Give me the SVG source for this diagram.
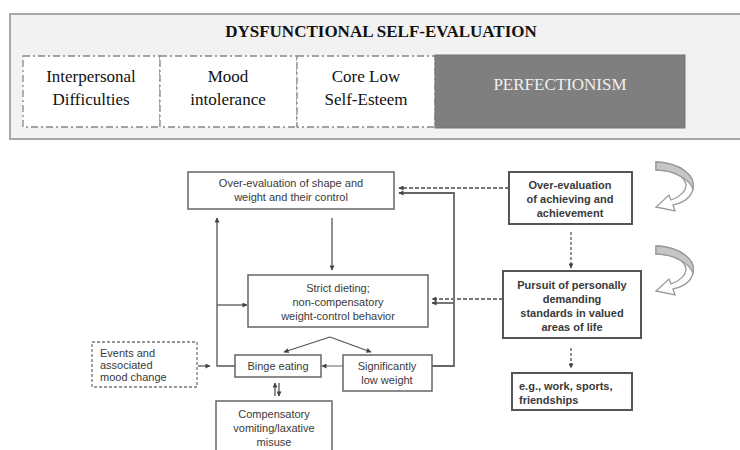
<svg xmlns="http://www.w3.org/2000/svg" width="740" height="450" viewBox="0 0 740 450">
<defs>
<style>
.panel{fill:#f2f2f2;stroke:#a8a8a8;stroke-width:2}
.dd{fill:#fff;stroke:#888;stroke-width:1.3;stroke-dasharray:7,3,2,3}
.tr{font-family:"Liberation Serif",serif;font-size:17px;fill:#111;text-anchor:middle}
.box{fill:#fff;stroke:#666;stroke-width:1.5}
.bbox{fill:#fff;stroke:#555;stroke-width:2}
.ta{font-family:"Liberation Sans",Arial,sans-serif;font-size:11px;fill:#3a3a3a;text-anchor:middle}
.tb{font-family:"Liberation Sans",Arial,sans-serif;font-size:11px;font-weight:bold;fill:#3a3a3a;text-anchor:middle}
.ln{fill:none;stroke:#555;stroke-width:1.3}
.dl{fill:none;stroke:#777;stroke-width:2;stroke-dasharray:4,2}
.dv{fill:none;stroke:#555;stroke-width:1.3;stroke-dasharray:3,2}
.ca{fill:#fff;stroke:#9a9a9a;stroke-width:1.3}
.cs{fill:#c6c6c6;stroke:#9a9a9a;stroke-width:1.3}
</style>
<marker id="ah" viewBox="0 0 10 10" refX="9" refY="5" markerUnits="userSpaceOnUse" markerWidth="6" markerHeight="5" orient="auto-start-reverse">
<path d="M0,0 L10,5 L0,10 Z" fill="#444"/>
</marker>
</defs>

<g id="panel">
<rect class="panel" x="10" y="14" width="740" height="125"/>
<text x="381" y="37" font-family="'Liberation Serif',serif" font-size="17" font-weight="bold" fill="#111" text-anchor="middle">DYSFUNCTIONAL SELF-EVALUATION</text>
</g>
<g id="interpersonal">
<rect class="dd" x="23" y="56" width="137" height="71"/>
<text class="tr" x="91" y="82">Interpersonal</text>
<text class="tr" x="91" y="105">Difficulties</text>
</g>
<g id="mood">
<rect class="dd" x="160" y="56" width="137" height="71"/>
<text class="tr" x="228" y="82">Mood</text>
<text class="tr" x="228" y="105">intolerance</text>
</g>
<g id="esteem">
<rect class="dd" x="297" y="56" width="138" height="71"/>
<text class="tr" x="366" y="82">Core Low</text>
<text class="tr" x="366" y="105">Self-Esteem</text>
</g>
<g id="perfectionism">
<rect x="435" y="55" width="250" height="73" fill="#7f7f7f" stroke="#777" stroke-width="1"/>
<text class="tr" x="560" y="90" style="fill:#f0f0f0">PERFECTIONISM</text>
</g>

<g id="connectors">
<line class="ln" x1="332" y1="218" x2="332" y2="270" marker-end="url(#ah)"/>
<polyline class="ln" points="235,366 217,366 217,218" marker-end="url(#ah)"/>
<line class="ln" x1="217" y1="305" x2="247" y2="305" marker-end="url(#ah)"/>
<line class="ln" x1="198" y1="366" x2="210" y2="366" marker-end="url(#ah)"/>
<line class="ln" x1="343" y1="366" x2="322" y2="366" marker-end="url(#ah)" style="stroke:#888"/>
<line class="ln" x1="330" y1="337" x2="284" y2="352" marker-end="url(#ah)"/>
<line class="ln" x1="330" y1="337" x2="371" y2="352" marker-end="url(#ah)"/>
<line class="ln" x1="275" y1="396" x2="275" y2="383" marker-end="url(#ah)"/>
<line class="ln" x1="279" y1="383" x2="279" y2="396" marker-end="url(#ah)"/>
<polyline class="ln" points="432,366 454,366 454,193 399,193" marker-end="url(#ah)" style="stroke-width:1.8;stroke:#666"/>
<line class="ln" x1="454" y1="303" x2="432" y2="303" marker-end="url(#ah)" style="stroke-width:1.8;stroke:#666"/>
<line class="dl" x1="509" y1="188" x2="399" y2="188" marker-end="url(#ah)"/>
<line class="dl" x1="503" y1="299" x2="432" y2="299" marker-end="url(#ah)"/>
<line class="dv" x1="571" y1="232" x2="571" y2="268" marker-end="url(#ah)"/>
<line class="dv" x1="571" y1="348" x2="571" y2="368" marker-end="url(#ah)"/>
</g>

<g id="shape-weight">
<rect class="box" x="188" y="172" width="206" height="37"/>
<text class="ta" x="291" y="187">Over-evaluation of shape and</text>
<text class="ta" x="291" y="201">weight and their control</text>
</g>
<g id="dieting">
<rect class="box" x="248" y="275" width="180" height="52"/>
<text class="ta" x="338" y="292">Strict dieting;</text>
<text class="ta" x="338" y="306">non-compensatory</text>
<text class="ta" x="338" y="320">weight-control behavior</text>
</g>
<g id="events">
<rect x="92" y="342" width="105" height="45" fill="#fff" stroke="#777" stroke-width="1.3" stroke-dasharray="3,2"/>
<text class="ta" x="100" y="357" style="text-anchor:start">Events and</text>
<text class="ta" x="100" y="369" style="text-anchor:start">associated</text>
<text class="ta" x="100" y="381" style="text-anchor:start">mood change</text>
</g>
<g id="binge">
<rect class="box" x="235" y="355" width="86" height="22"/>
<text class="ta" x="278" y="370">Binge eating</text>
</g>
<g id="lowweight">
<rect class="box" x="343" y="355" width="89" height="36"/>
<text class="ta" x="387" y="370">Significantly</text>
<text class="ta" x="387" y="384">low weight</text>
</g>
<g id="compensatory">
<rect class="box" x="216" y="401" width="116" height="60"/>
<text class="ta" x="274" y="418">Compensatory</text>
<text class="ta" x="274" y="432">vomiting/laxative</text>
<text class="ta" x="274" y="446">misuse</text>
</g>
<g id="achieving">
<rect class="bbox" x="509" y="172" width="123" height="52"/>
<text class="tb" x="570" y="189">Over-evaluation</text>
<text class="tb" x="570" y="203">of achieving and</text>
<text class="tb" x="570" y="217">achievement</text>
</g>
<g id="pursuit">
<rect class="bbox" x="503" y="271" width="138" height="67"/>
<text class="tb" x="572" y="289">Pursuit of personally</text>
<text class="tb" x="572" y="303">demanding</text>
<text class="tb" x="572" y="317">standards in valued</text>
<text class="tb" x="572" y="331">areas of life</text>
</g>
<g id="examples">
<rect class="bbox" x="512" y="373" width="120" height="37"/>
<text class="tb" x="519" y="390" style="text-anchor:start">e.g., work, sports,</text>
<text class="tb" x="519" y="404" style="text-anchor:start">friendships</text>
</g>

<g id="curved1">
<path class="ca" d="M656,162 C681,163 696,176 693,189 C691,198 682,203 673,205 L675,211 L656,207 L669,195 L671,200 C680,197 686,191 686,185 C685,176 673,170 656,170 Z"/>
<path class="cs" d="M656,162 C681,163 696,176 693,189 C690,181 676,170 656,170 Z"/>
</g>
<g id="curved2">
<path class="ca" d="M656,246 C681,247 696,260 693,273 C691,282 682,287 673,289 L675,295 L656,291 L669,279 L671,284 C680,281 686,275 686,269 C685,260 673,254 656,254 Z"/>
<path class="cs" d="M656,246 C681,247 696,260 693,273 C690,265 676,254 656,254 Z"/>
</g>
</svg>
